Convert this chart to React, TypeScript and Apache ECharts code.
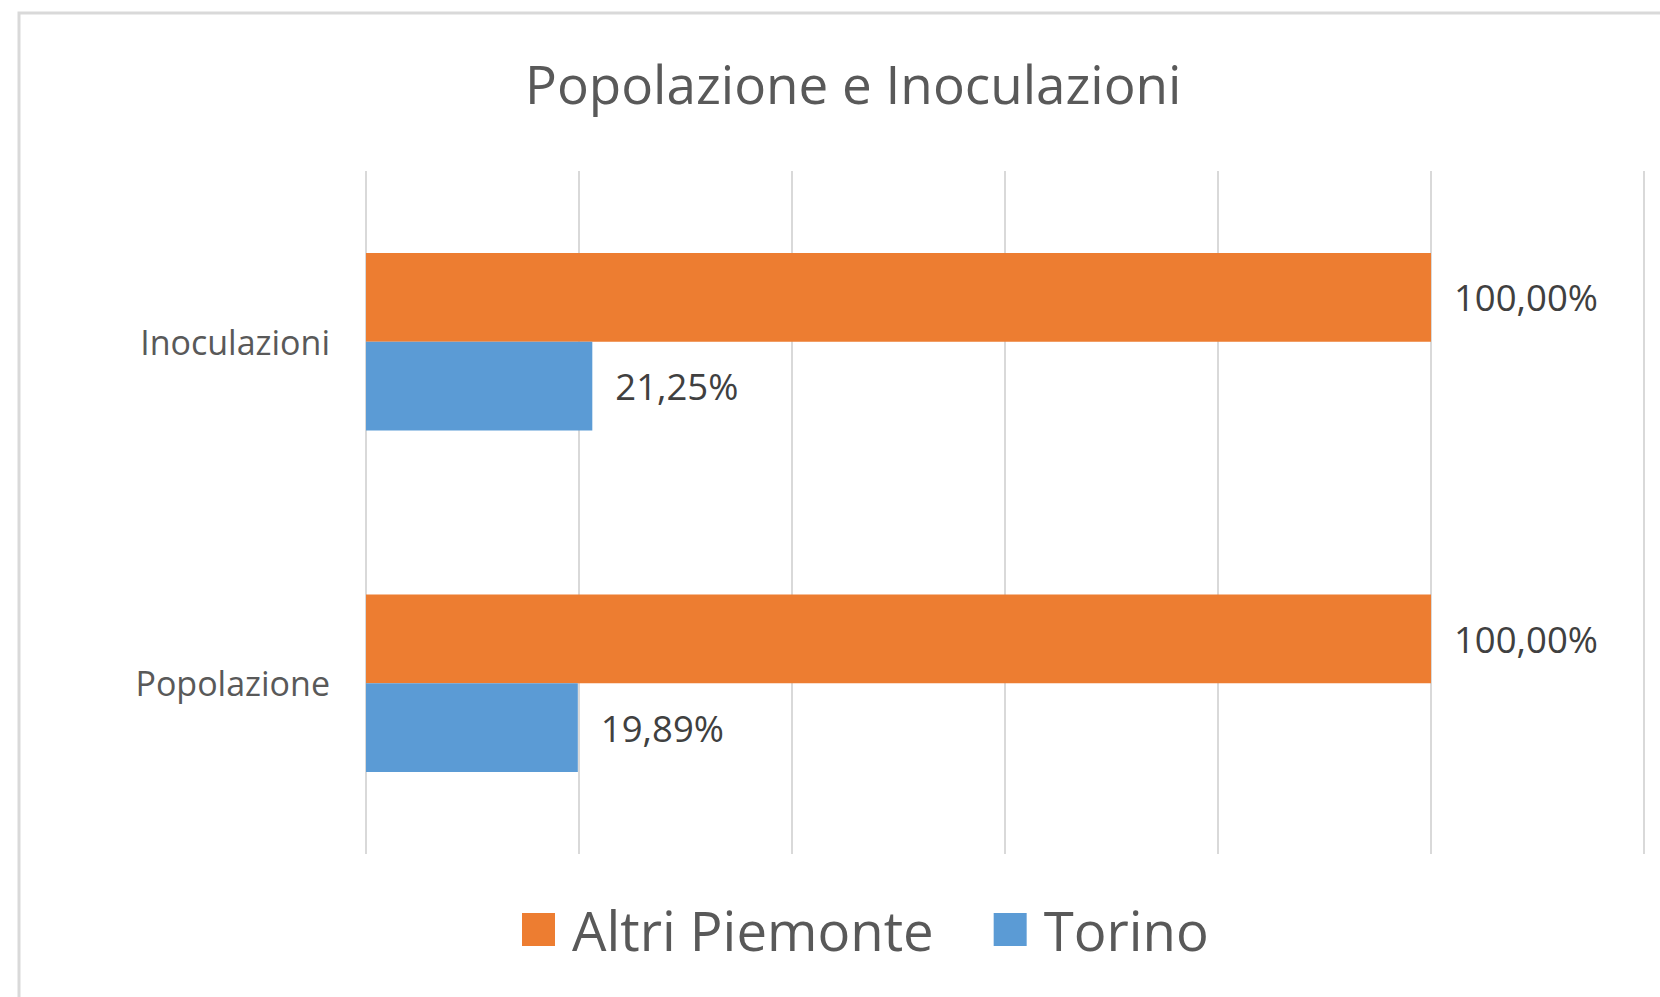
import React, { useEffect, useRef } from "react";
import * as echarts from "echarts";

const categories = ["Popolazione", "Inoculazioni"];
const seriesNames = ["Altri Piemonte", "Torino"];
const altriPiemonte = [100, 100];
const torino = [19.89, 21.25];
const titleText = "Popolazione e Inoculazioni";

const FONT = "'Open Sans', 'Noto Sans', sans-serif";
const fmt = (v: number) => v.toFixed(2).replace(".", ",") + "%";

export default function App() {
  const ref = useRef<HTMLDivElement>(null);
  useEffect(() => {
    document.body.style.margin = "0";
    const chart = echarts.init(ref.current!, null, { renderer: "svg" });
    const label = {
      show: true,
      position: "right",
      distance: 23,
      formatter: (p: any) => fmt(p.value),
      fontFamily: FONT,
      fontSize: 36.5,
      color: "#404040",
    };
    chart.setOption({
      animation: false,
      backgroundColor: "#ffffff",
      title: {
        text: titleText,
        left: 525,
        top: 57,
        padding: 0,
        textStyle: { fontFamily: FONT, fontSize: 53, fontWeight: "normal", color: "#595959" },
      },
      legend: {
        data: seriesNames,
        left: 522,
        top: 902,
        padding: 0,
        itemWidth: 33,
        itemHeight: 33,
        itemGap: 60,
        icon: "rect",
        textStyle: { fontFamily: FONT, fontSize: 54.5, color: "#595959", padding: [0, 0, 0, 12] },
      },
      graphic: [
        {
          type: "rect",
          shape: { x: 19, y: 13, width: 1700, height: 1100 },
          style: { fill: "none", stroke: "#d9d9d9", lineWidth: 3 },
          silent: true,
        },
      ],
      grid: { left: 366, right: 16, top: 171, bottom: 143, containLabel: false },
      xAxis: {
        type: "value",
        min: 0,
        max: 120,
        interval: 20,
        axisLabel: { show: false },
        axisLine: { show: false },
        axisTick: { show: false },
        splitLine: { show: true, lineStyle: { color: "#d9d9d9", width: 2 } },
      },
      yAxis: {
        type: "category",
        data: categories,
        axisLine: { show: false },
        axisTick: { show: false },
        axisLabel: { fontFamily: FONT, fontSize: 34, color: "#595959", margin: 36 },
      },
      series: [
        {
          name: seriesNames[0],
          type: "bar",
          data: altriPiemonte,
          itemStyle: { color: "#ED7D31" },
          barGap: "0%",
          barCategoryGap: "48%",
          label,
        },
        {
          name: seriesNames[1],
          type: "bar",
          data: torino,
          itemStyle: { color: "#5B9BD5" },
          barGap: "0%",
          barCategoryGap: "48%",
          label,
        },
      ],
    });
    return () => chart.dispose();
  }, []);
  return <div ref={ref} style={{ width: 1660, height: 997 }} />;
}
